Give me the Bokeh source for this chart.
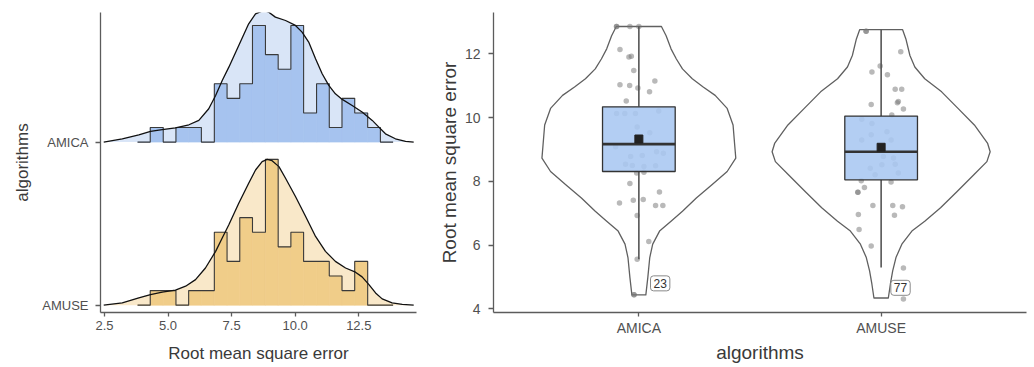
import numpy as np
from bokeh.plotting import figure
from bokeh.layouts import row
from bokeh.models import Range1d, FixedTicker, NumeralTickFormatter, Label
from bokeh.embed import file_html
from bokeh.resources import INLINE

FONT = "Liberation Sans"

# ---------------- data ----------------
algorithms = ["AMICA", "AMUSE"]

# histogram (binline) bins, shared by both ridges
bin_edges = [3.80, 4.30, 4.81, 5.31, 5.81, 6.31, 6.82, 7.32, 7.82, 8.32, 8.83,
             9.33, 9.83, 10.33, 10.84, 11.34, 11.84, 12.34, 12.85, 13.35, 13.85]
amica_counts = [0, 1, 0, 1, 1, 0, 4, 3, 4, 8, 6, 5, 8, 2, 4, 1, 3, 2, 1, 0]
amuse_counts = [0, 1, 1, 0, 1, 1, 5, 3, 6, 5, 10, 4, 5, 3, 3, 2, 1, 3, 0, 0]

# density ridges (heights in histogram-count units)
amica_dens_x = [2.47, 3.20, 3.85, 4.31, 4.77, 5.29, 5.82, 6.21, 6.60, 6.87, 7.13, 7.39,
                7.78, 8.17, 8.44, 8.76, 8.96, 9.22, 9.62, 10.01, 10.27, 10.53, 10.80,
                11.06, 11.32, 11.58, 11.85, 12.24, 12.63, 13.03, 13.29, 13.55, 13.94,
                14.34, 14.66]
amica_dens_h = [0, 0.23, 0.50, 0.73, 0.85, 0.98, 1.19, 1.49, 2.29, 3.20, 4.23, 5.14,
                6.63, 8.11, 8.80, 9.03, 8.91, 8.57, 8.34, 8.00, 7.54, 6.86, 5.71,
                4.69, 3.89, 3.31, 2.93, 2.51, 2.06, 1.49, 1.03, 0.57, 0.23, 0.05, 0]
amuse_dens_x = [2.47, 3.20, 3.85, 4.31, 4.77, 5.29, 5.69, 6.08, 6.47, 6.87, 7.13, 7.39,
                7.78, 8.17, 8.44, 8.70, 8.90, 9.09, 9.36, 9.62, 10.01, 10.41, 10.80,
                11.19, 11.58, 11.98, 12.37, 12.63, 12.90, 13.16, 13.42, 13.81, 14.21, 14.66]
amuse_dens_h = [0, 0.16, 0.50, 0.73, 0.89, 1.03, 1.30, 1.75, 2.55, 3.69, 4.60, 5.51,
                6.99, 8.36, 9.27, 9.84, 10.0, 9.91, 9.50, 8.70, 7.45, 6.08, 4.71,
                3.69, 3.00, 2.55, 2.26, 1.94, 1.41, 0.84, 0.43, 0.16, 0.05, 0]
left_x_ticks = [2.5, 5.0, 7.5, 10.0, 12.5]

# violin profiles (relative density, 1 = widest)
amica_violin_y = [12.86, 12.57, 12.16, 11.84, 11.53, 11.22, 10.96, 10.70, 10.29, 9.77, 9.14,
                  8.73, 8.31, 7.90, 7.48, 7.06, 6.75, 6.44, 6.03, 5.61, 4.98, 4.44]
amica_violin_d = [0.207, 0.25, 0.295, 0.344, 0.40, 0.49, 0.59, 0.70, 0.81, 0.864, 0.879,
                  0.889, 0.81, 0.673, 0.527, 0.40, 0.295, 0.19, 0.127, 0.10, 0.082, 0.064]
amuse_violin_y = [12.76, 12.47, 11.95, 11.59, 11.22, 10.81, 10.29, 9.77, 9.19, 8.93, 8.62,
                  8.20, 7.68, 7.17, 6.75, 6.44, 6.03, 5.61, 5.19, 4.78, 4.34]
amuse_violin_d = [0.197, 0.227, 0.264, 0.309, 0.40, 0.555, 0.705, 0.855, 0.977, 1.0, 0.97,
                  0.848, 0.697, 0.545, 0.40, 0.282, 0.19, 0.136, 0.106, 0.085, 0.066]

# box statistics: q1, median, q3, mean, lower whisker, upper whisker
amica_box = [8.31, 9.17, 10.34, 9.33, 5.56, 12.86]
amuse_box = [8.05, 8.93, 10.05, 9.07, 5.30, 12.76]

# observations (value, jitter offset)
amica_values = [12.86, 12.86, 12.86, 12.86, 12.14, 11.90, 11.93, 11.48, 11.03, 11.01, 10.93,
                11.15, 10.81, 10.52, 10.13, 10.13, 10.13, 10.21, 9.71, 9.53, 9.09, 8.78,
                8.81, 8.93, 8.88, 8.54, 8.50, 8.47, 8.49, 8.26, 8.29, 7.93, 7.67, 7.32,
                7.41, 7.43, 7.24, 7.24, 6.93, 6.11, 5.56, 4.44, 4.44]
amica_jitter = [-0.092, -0.092, -0.037, 0.0, -0.078, -0.041, -0.031, -0.021, -0.078, -0.038,
                -0.004, 0.066, 0.044, -0.052, -0.092, -0.058, -0.014, 0.082, -0.007, 0.045,
                -0.096, -0.034, 0.014, 0.073, 0.101, -0.055, -0.027, 0.021, 0.069, -0.009,
                0.021, -0.037, 0.085, -0.080, -0.023, 0.018, 0.069, 0.099, -0.007, 0.041,
                -0.007, -0.02, -0.02]
amuse_values = [12.71, 12.71, 12.07, 11.62, 11.43, 11.35, 10.89, 10.89, 10.41, 10.47, 10.51,
                10.27, 10.08, 9.95, 9.82, 9.56, 9.30, 9.46, 9.30, 8.78, 8.73, 8.54, 8.41,
                8.52, 8.26, 8.21, 8.02, 7.98, 7.81, 7.66, 7.66, 7.24, 7.24, 7.20, 6.96,
                6.94, 6.49, 5.97, 5.28, 4.31]
amuse_jitter = [-0.062, -0.062, 0.081, -0.004, -0.038, 0.026, 0.058, 0.085, -0.041, 0.067,
                0.071, 0.092, 0.044, -0.080, -0.038, 0.024, -0.080, -0.041, 0.041, 0.009,
                0.051, 0.058, -0.045, 0.003, 0.071, -0.025, -0.082, 0.041, -0.069, -0.096,
                -0.096, -0.034, 0.048, 0.088, -0.094, 0.055, -0.091, -0.041, 0.092, 0.092]
outlier_ids = ["23", "77"]
outlier_label_pos = [(0.088, 4.80), (0.080, 4.66)]
right_y_ticks = [4, 6, 8, 10, 12]

# ---------------- styling helpers ----------------
AX = "#5c5c5c"


def style(p, tick_size, title_size):
    p.outline_line_color = None
    p.xgrid.visible = False
    p.ygrid.visible = False
    p.background_fill_color = "white"
    p.border_fill_color = "white"
    for ax in (p.xaxis[0], p.yaxis[0]):
        ax.axis_line_color = AX
        ax.axis_line_width = 1.3
        ax.major_tick_line_color = AX
        ax.major_tick_line_width = 1.3
        ax.major_tick_in = 0
        ax.major_tick_out = 4
        ax.minor_tick_line_color = None
        ax.major_label_text_font = FONT
        ax.major_label_text_font_size = f"{tick_size}px"
        ax.major_label_text_color = "#505050"
        ax.axis_label_text_font = FONT
        ax.axis_label_text_font_size = f"{title_size}px"
        ax.axis_label_text_font_style = "normal"
        ax.axis_label_text_color = "#3a3a3a"


# ---------------- left: ridgeline ----------------
ridge_scale = 1 / 11.18
p1 = figure(width=420, height=367, x_range=Range1d(2.343, 14.77),
            y_range=Range1d(-0.045, 1.795), output_backend="svg",
            toolbar_location=None, min_border_left=100, min_border_right=4,
            min_border_top=12, min_border_bottom=55)

ridges = [
    (1, amica_counts, amica_dens_x, amica_dens_h, "#d9e5f7", "#a6c3ef"),
    (0, amuse_counts, amuse_dens_x, amuse_dens_h, "#f9e8c9", "#f0cd89"),
]
edges = np.array(bin_edges)
for base, counts, dx, dh, light, dark in ridges:
    counts = np.array(counts, dtype=float)
    dh = np.array(dh)
    p1.varea(x=dx, y1=[base] * len(dx), y2=base + dh * ridge_scale, fill_color=light)
    p1.quad(left=edges[:-1], right=edges[1:], bottom=base,
            top=base + counts * ridge_scale, fill_color=dark, line_color=dark,
            line_width=0.6)
    sx = np.repeat(edges, 2)[1:-1]
    sy = base + np.repeat(counts, 2) * ridge_scale
    p1.line(sx, sy, line_color="#3a3a3a", line_width=1.1)
    p1.line(dx, base + dh * ridge_scale, line_color="#111111", line_width=1.3,
            line_join="round")

style(p1, 13, 17)
p1.xaxis[0].ticker = FixedTicker(ticks=left_x_ticks)
p1.xaxis[0].formatter = NumeralTickFormatter(format="0.0")
p1.xaxis[0].axis_label = "Root mean square error"
p1.xaxis[0].major_label_standoff = 4
p1.xaxis[0].axis_label_standoff = 11
p1.yaxis[0].ticker = FixedTicker(ticks=[1, 0])
p1.yaxis[0].major_label_overrides = {1: algorithms[0], 0: algorithms[1]}
p1.yaxis[0].axis_label = "algorithms"
p1.yaxis[0].major_tick_out = 5
p1.yaxis[0].major_label_standoff = 7
p1.yaxis[0].axis_label_standoff = 7

# ---------------- right: violin + box ----------------
p2 = figure(width=614, height=367, x_range=Range1d(0.4, 2.6),
            y_range=Range1d(3.885, 13.30), output_backend="svg",
            toolbar_location=None, min_border_left=73, min_border_right=8,
            min_border_top=10, min_border_bottom=55)

groups = [
    (1, amica_violin_y, amica_violin_d, amica_box, amica_values, amica_jitter),
    (2, amuse_violin_y, amuse_violin_d, amuse_box, amuse_values, amuse_jitter),
]
half_w = 0.45
box_hw = 0.15
for c, vy, vd, box, vals, jit in groups:
    vy = np.array(vy)
    vd = np.array(vd)
    xs = np.concatenate([c + half_w * vd, (c - half_w * vd)[::-1]])
    ys = np.concatenate([vy, vy[::-1]])
    p2.patch(xs, ys, fill_alpha=0, line_color="#606060", line_width=1.3,
             line_join="round")
    p2.scatter(x=c + np.array(jit), y=vals, size=5.5, fill_color="#737373",
               fill_alpha=0.5, line_color=None)
    q1, med, q3, mean, lo, hi = box
    p2.segment(x0=[c, c], y0=[lo, q3], x1=[c, c], y1=[q1, hi],
               line_color="#555555", line_width=1.6)
    p2.quad(left=c - box_hw, right=c + box_hw, bottom=q1, top=q3,
            fill_color="#a9c7f1", fill_alpha=0.88, line_color="#333333", line_width=1.3)
    p2.segment(x0=c - box_hw, y0=med, x1=c + box_hw, y1=med,
               line_color="#333333", line_width=2.6)
    p2.scatter(x=[c], y=[mean], marker="square", size=8, fill_color="#222222",
               line_color="#222222")

for (c, _, _, _, _, _), oid, (ox, oy) in zip(groups, outlier_ids, outlier_label_pos):
    p2.add_layout(Label(x=c + ox, y=oy, text=oid, text_align="center",
                        text_baseline="middle", text_font=FONT, text_font_size="12px",
                        text_color="#333333", background_fill_color="white",
                        border_line_color="#8a8a8a", border_line_width=1,
                        padding=3, border_radius=3))

style(p2, 14, 19)
p2.xaxis[0].ticker = FixedTicker(ticks=[1, 2])
p2.xaxis[0].major_label_overrides = {1: algorithms[0], 2: algorithms[1]}
p2.xaxis[0].axis_label = "algorithms"
p2.xaxis[0].major_label_standoff = 3
p2.xaxis[0].axis_label_standoff = 3
p2.yaxis[0].ticker = FixedTicker(ticks=right_y_ticks)
p2.yaxis[0].axis_label = "Root mean square error"
p2.yaxis[0].major_tick_out = 5
p2.yaxis[0].major_label_standoff = 8
p2.yaxis[0].axis_label_standoff = 2

layout = row(p1, p2)
open("out.html", "w").write(file_html(layout, INLINE))
